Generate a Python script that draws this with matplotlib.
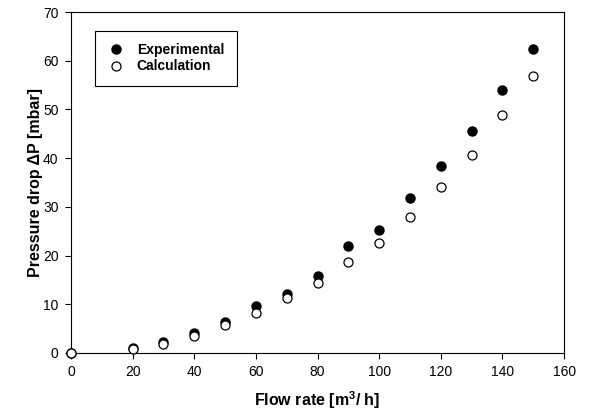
import matplotlib
matplotlib.use('Agg')
import matplotlib.pyplot as plt

plt.rcParams['font.family'] = ['Liberation Sans', 'DejaVu Sans']
plt.rcParams['mathtext.fontset'] = 'custom'
plt.rcParams['mathtext.bf'] = 'Liberation Sans:bold'
plt.rcParams['mathtext.rm'] = 'Liberation Sans'

# data
flow = [0, 20, 30, 40, 50, 60, 70, 80, 90, 100, 110, 120, 130, 140, 150]
experimental = [0.0, 1.0, 2.3, 4.1, 6.4, 9.6, 12.1, 15.8, 22.0, 25.3, 31.8, 38.4, 45.5, 54.0, 62.5]
calculation = [0.0, 0.9, 1.9, 3.5, 5.7, 8.3, 11.2, 14.4, 18.6, 22.5, 27.9, 34.0, 40.6, 48.9, 56.8]

fig = plt.figure(figsize=(6.04, 4.17), dpi=100)
ax = fig.add_axes([0.1175, 0.1535, 0.8165, 0.8175])

ax.plot(flow, experimental, 'o', color='black', markersize=6.5, label='Experimental', clip_on=False, zorder=3)
ax.plot(flow, calculation, 'o', markerfacecolor='white', markeredgecolor='black', markeredgewidth=0.9,
        markersize=6.5, label='Calculation', clip_on=False, zorder=4)

ax.set_xlim(0, 160)
ax.set_ylim(0, 70)
ax.set_xticks(range(0, 161, 20))
ax.set_yticks(range(0, 71, 10))
ax.tick_params(direction='out', length=4, width=0.8, labelsize=10, top=False, right=False, pad=5)
for s in ax.spines.values():
    s.set_linewidth(0.8)

ax.set_xlabel(r'Flow rate [m$^\mathbf{3}$/ h]', fontsize=11.5, fontweight='bold', labelpad=7)
ax.set_ylabel('Pressure drop ΔP [mbar]', fontsize=11.5, fontweight='bold', labelpad=0)

leg = ax.legend(loc='upper left', bbox_to_anchor=(0.049, 0.945), fancybox=False, framealpha=1,
                edgecolor='black', prop={'weight': 'bold', 'size': 10}, handletextpad=0.9,
                borderpad=0.9, borderaxespad=0, labelspacing=0.15, handlelength=1.2)
leg.get_frame().set_linewidth(0.8)

plt.savefig('out.png', dpi=100)
